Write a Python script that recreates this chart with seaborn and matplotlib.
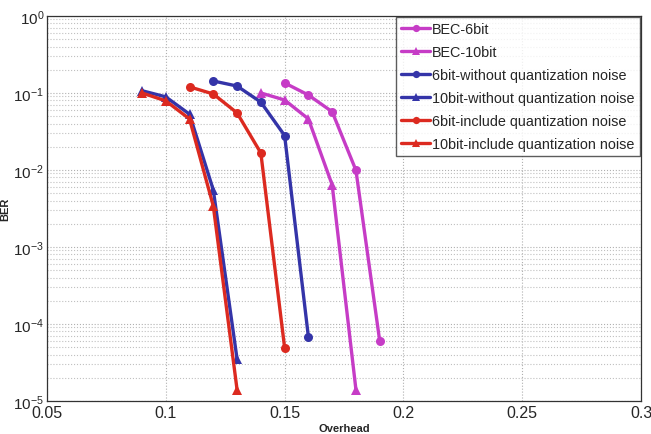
import matplotlib
matplotlib.use("Agg")
import matplotlib.pyplot as plt
import matplotlib.ticker as mticker
import numpy as np
import pandas as pd
import seaborn as sns

# values
bec6_x = [0.15, 0.16, 0.17, 0.18, 0.19]
bec6_y = [0.135, 0.094, 0.057, 0.0099, 6.0e-5]

bec10_x = [0.14, 0.15, 0.16, 0.17, 0.18]
bec10_y = [0.10, 0.081, 0.046, 0.0064, 1.4e-5]

wo6_x = [0.12, 0.13, 0.14, 0.15, 0.16]
wo6_y = [0.143, 0.123, 0.076, 0.028, 6.8e-5]

wo10_x = [0.09, 0.10, 0.11, 0.12, 0.13]
wo10_y = [0.107, 0.089, 0.053, 0.0055, 3.5e-5]

inc6_x = [0.11, 0.12, 0.13, 0.14, 0.15]
inc6_y = [0.12, 0.097, 0.055, 0.0166, 4.9e-5]

inc10_x = [0.09, 0.10, 0.11, 0.12, 0.13]
inc10_y = [0.10, 0.079, 0.046, 0.0034, 1.4e-5]

names = ['BEC-6bit', 'BEC-10bit',
         '6bit-without quantization noise', '10bit-without quantization noise',
         '6bit-include quantization noise', '10bit-include quantization noise']
xs = [bec6_x, bec10_x, wo6_x, wo10_x, inc6_x, inc10_x]
ys = [bec6_y, bec10_y, wo6_y, wo10_y, inc6_y, inc10_y]

magenta = '#C63CC6'
blue = '#3434A8'
red = '#DC2A20'
colors = [magenta, magenta, blue, blue, red, red]
marks = ['o', '^', 'o', '^', 'o', '^']

df = pd.concat(
    [pd.DataFrame({'Overhead': x, 'BER': y, 'series': n}) for n, x, y in zip(names, xs, ys)],
    ignore_index=True,
)

sns.set_style('white')
plt.rcParams['font.family'] = ['Liberation Sans', 'DejaVu Sans']
plt.rcParams['mathtext.default'] = 'regular'

fig = plt.figure(figsize=(6.51, 4.35), dpi=100)
ax = fig.add_axes([0.072, 0.076, 0.913, 0.885])

sns.lineplot(
    data=df, x='Overhead', y='BER', hue='series', style='series',
    palette=dict(zip(names, colors)), markers=dict(zip(names, marks)),
    dashes=False, linewidth=2.4, markersize=6.5, markeredgewidth=0,
    sort=False, ax=ax,
)

ax.set_yscale('log')
ax.set_xlim(0.05, 0.3)
ax.set_ylim(1e-5, 1)
ax.set_xticks([0.05, 0.1, 0.15, 0.2, 0.25, 0.3])
ax.xaxis.set_major_formatter(mticker.FuncFormatter(lambda v, p: '%g' % v))
ax.yaxis.set_major_locator(mticker.LogLocator(base=10, numticks=10))
ax.yaxis.set_minor_locator(mticker.LogLocator(base=10, subs=np.arange(2, 10), numticks=20))
ax.yaxis.set_minor_formatter(mticker.NullFormatter())

ax.grid(True, which='major', axis='both', color='#b0b0b0', linestyle=':', linewidth=0.8)
ax.grid(True, which='minor', axis='y', color='#c0c0c0', linestyle=':', linewidth=0.8)

ax.tick_params(axis='x', which='major', labelsize=11.5, direction='in', length=4, color='#555555', pad=3)
ax.tick_params(axis='y', which='major', labelsize=11, direction='in', length=4, color='#555555', pad=2)
ax.tick_params(axis='y', which='minor', direction='in', length=2, color='#777777')
for s in ax.spines.values():
    s.set_color('#333333')
    s.set_linewidth(0.9)

ax.set_xlabel('Overhead', fontsize=8, fontweight='bold', labelpad=2)
ax.set_ylabel('BER', fontsize=8, fontweight='bold')
ax.yaxis.set_label_coords(-0.062, 0.5)

leg = ax.legend(loc='upper right', fontsize=10.4, frameon=True, fancybox=False,
                borderaxespad=0.1, handlelength=2.0, handletextpad=0.15,
                labelspacing=0.62, borderpad=0.35, markerscale=0.8)
leg.get_frame().set_edgecolor('#333333')
leg.get_frame().set_linewidth(1.0)

fig.savefig('out.png', dpi=100)
